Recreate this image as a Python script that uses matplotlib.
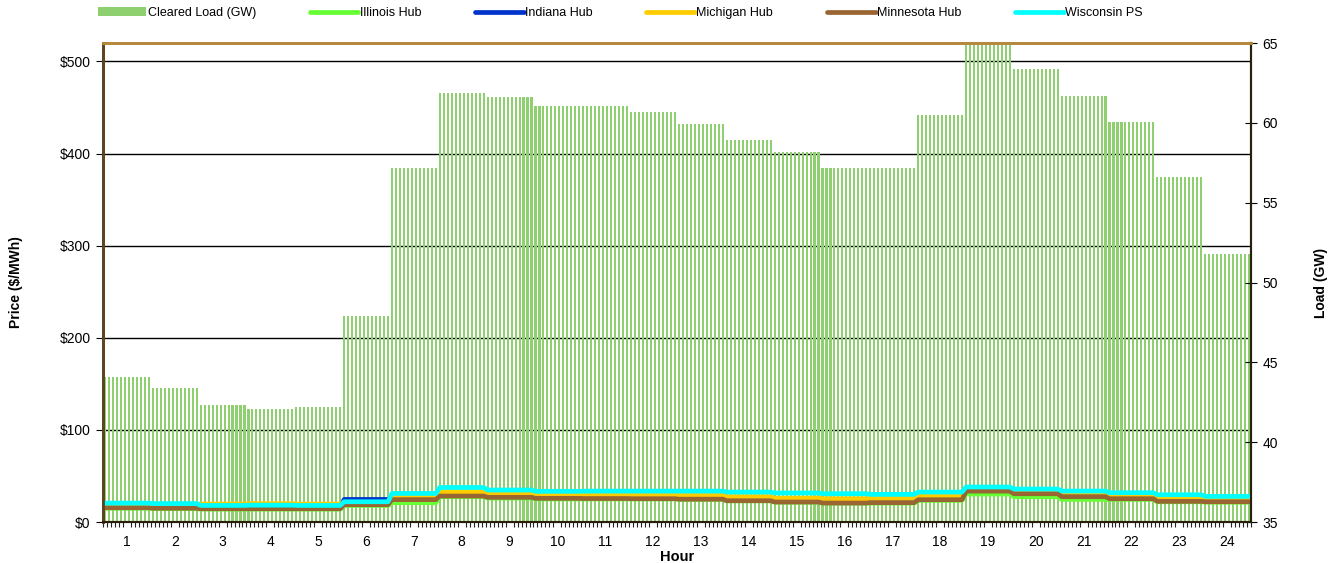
import numpy as np
import matplotlib
matplotlib.use('Agg')
from matplotlib import pyplot as plt
from matplotlib.transforms import blended_transform_factory

plt.rcParams['font.family'] = ['Liberation Sans', 'DejaVu Sans']

###########################################################################
# Data: hourly values, each hour shown as 12 five-minute intervals.
###########################################################################
hours = list(range(1, 25))
intervals_per_hour = 12

cleared_load_gw = [44.1, 43.4, 42.3, 42.1, 42.2, 47.9, 57.2, 61.9, 61.6, 61.05, 61.05, 60.7,
                   59.9, 58.9, 58.2, 57.2, 57.2, 60.5, 64.9, 63.4, 61.7, 60.05, 56.6, 51.8]

illinois_hub = [15.0, 14.5, 14.0, 14.0, 14.0, 18.0, 21.0, 27.5, 26.0, 25.0, 25.0, 25.0,
                24.5, 23.0, 21.5, 20.5, 20.5, 23.5, 30.4, 27.5, 24.6, 24.5, 22.0, 21.5]
indiana_hub = [16.5, 16.0, 15.0, 15.0, 15.0, 24.5, 25.5, 29.5, 28.0, 27.0, 27.0, 27.0,
               26.5, 25.0, 23.5, 22.5, 23.0, 25.5, 34.0, 31.5, 28.5, 26.5, 24.0, 23.5]
michigan_hub = [18.0, 17.5, 19.5, 20.0, 19.5, 21.0, 27.8, 32.9, 31.0, 29.6, 29.5, 29.5,
                29.3, 27.5, 25.9, 25.3, 25.5, 28.6, 35.5, 33.0, 30.5, 28.5, 26.0, 25.0]
minnesota_hub = [15.5, 15.0, 14.4, 14.4, 14.4, 18.8, 24.3, 28.2, 26.8, 25.7, 25.5, 25.3,
                 24.8, 23.1, 21.7, 20.6, 21.0, 24.2, 33.6, 30.7, 27.5, 25.3, 22.4, 22.0]
wisconsin_ps = [20.5, 20.0, 18.0, 18.3, 18.0, 22.0, 31.0, 37.5, 34.7, 33.3, 33.5, 33.5,
                33.5, 32.5, 31.5, 30.7, 30.0, 32.5, 38.0, 35.8, 33.6, 31.8, 29.6, 27.8]

price_ticks = [0, 100, 200, 300, 400, 500]
load_ticks = [35, 40, 45, 50, 55, 60, 65]

###########################################################################
# Figure.
###########################################################################
fig = plt.figure(figsize=(13.39, 5.63), dpi=100)
ax_load = fig.add_axes([0.0769, 0.0728, 0.8574, 0.8508])
ax_price = ax_load.twinx()

ax_load.yaxis.tick_right()
ax_load.yaxis.set_label_position('right')
ax_price.yaxis.tick_left()
ax_price.yaxis.set_label_position('left')

x = np.arange(len(hours) * intervals_per_hour)
load = np.repeat(cleared_load_gw, intervals_per_hour)

# price grid lines, drawn behind the load bars
grid_tf = blended_transform_factory(ax_load.transAxes, ax_price.transData)
for p in price_ticks[1:]:
    ax_load.plot([0, 1], [p, p], transform=grid_tf, color='black', lw=1, zorder=0.5)

bars = ax_load.bar(x, load, width=0.52, color='#8ECF6F', linewidth=0, antialiased=False,
                   zorder=1, label='Cleared Load (GW)')

series = [
    ('Illinois Hub', illinois_hub, '#66FF33'),
    ('Indiana Hub', indiana_hub, '#0033CC'),
    ('Michigan Hub', michigan_hub, '#FFCC00'),
    ('Minnesota Hub', minnesota_hub, '#996633'),
    ('Wisconsin PS', wisconsin_ps, '#00FFFF'),
]
lines = []
for name, vals, col in series:
    ln, = ax_price.plot(x, np.repeat(vals, intervals_per_hour), color=col, lw=3.4,
                        solid_capstyle='round', solid_joinstyle='round', label=name)
    lines.append(ln)

ax_load.set_xlim(-0.5, len(x) - 0.5)
ax_load.set_ylim(35, 65)
ax_price.set_ylim(0, 520)

# x ticks: hour labels at centers, small ticks at every interval
ax_load.set_xticks([h * intervals_per_hour - intervals_per_hour / 2 - 0.5 for h in hours])
ax_load.set_xticklabels([str(h) for h in hours])
ax_load.set_xticks(np.arange(-0.5, len(x), 1), minor=True)
ax_load.tick_params(axis='x', which='major', length=0, pad=9, labelsize=10)
ax_load.tick_params(axis='x', which='minor', length=3.5, width=0.8, direction='out', color='#222222')

ax_load.set_yticks(load_ticks)
ax_load.tick_params(axis='y', direction='inout', length=8, width=0.8, pad=4, labelsize=10)

ax_price.set_yticks(price_ticks)
ax_price.set_yticklabels(['$%d' % p for p in price_ticks])
ax_price.tick_params(axis='y', direction='out', length=5, width=0.8, pad=4, labelsize=10)

ax_price.set_ylabel('Price ($/MWh)', fontsize=10, fontweight='bold', labelpad=26)
ax_load.set_ylabel('Load (GW)', fontsize=10, fontweight='bold', labelpad=26)
ax_load.set_xlabel('Hour', fontsize=10.5, fontweight='bold', labelpad=1)

for a in (ax_load, ax_price):
    a.spines['top'].set_color('#B5893C')
    a.spines['top'].set_linewidth(2)
    a.spines['left'].set_color('#5C4520')
    a.spines['left'].set_linewidth(2)
    a.spines['bottom'].set_color('#2A1E0A')
    a.spines['bottom'].set_linewidth(1.5)
    a.spines['right'].set_color('#2A2010')
    a.spines['right'].set_linewidth(1.5)

fig.legend([bars] + lines, ['Cleared Load (GW)'] + [s[0] for s in series],
           loc='center left', bbox_to_anchor=(0.073, 0.977), ncol=6, frameon=False,
           fontsize=9, handlelength=3.9, handletextpad=0.1, columnspacing=4.3,
           borderpad=0, borderaxespad=0)

fig.savefig('out.png', dpi=100)
